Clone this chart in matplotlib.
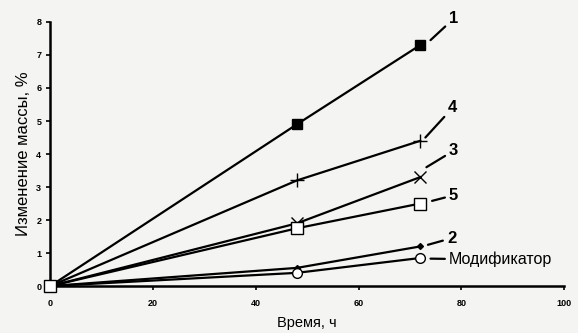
import matplotlib.pyplot as plt

plt.rcParams['font.family'] = ['Liberation Sans', 'DejaVu Sans']

# time points, h
hours = [0, 48, 72]

# mass change, %
s1 = [0, 4.9, 7.3]
s4 = [0, 3.2, 4.4]
s3 = [0, 1.9, 3.3]
s5 = [0, 1.75, 2.5]
s2 = [0, 0.55, 1.2]
smod = [0, 0.4, 0.85]

labels = ["1", "4", "3", "5", "2", "Модификатор"]
# label anchor (x, y) in data units and leader start near the curve end
label_pos = [(77.6, 8.1), (77.4, 5.4), (77.6, 4.1), (77.6, 2.75), (77.2, 1.45), (77.6, 0.8)]
leader_start = [(74, 7.45), (73, 4.5), (73.2, 3.6), (74.3, 2.58), (73.5, 1.25), (74, 0.83)]

fig = plt.figure(figsize=(5.78, 3.33), dpi=100)
fig.patch.set_facecolor("#f4f4f2")
ax = fig.add_axes([0.087, 0.141, 0.889, 0.793])
ax.set_facecolor("#f4f4f2")

lw = 1.6
skip0 = [1, 2]
ax.plot(hours, s1, "k-s", lw=lw, ms=7, mfc="black", markevery=skip0, zorder=3)
ax.plot(hours, s4, "k-+", lw=lw, ms=10, mew=1.0, markevery=skip0, zorder=3)
ax.plot(hours, s3, "k-x", lw=lw, ms=9, mew=1.0, markevery=skip0, zorder=3)
ax.plot(hours, s2, "k-D", lw=lw, ms=3, markevery=skip0, zorder=3)
ax.plot(hours, smod, "k-o", lw=lw, ms=7, mfc="white", mew=1.0, markevery=skip0, zorder=3)
ax.plot(hours, s5, "k-s", lw=lw, ms=8, mfc="white", mew=1.0, zorder=4)

for lab, (tx, ty), (sx, sy) in zip(labels, label_pos, leader_start):
    bold = lab != "Модификатор"
    ax.annotate(lab, xy=(sx, sy), xytext=(tx, ty),
                fontsize=12 if bold else 11.5, fontweight="bold" if bold else "normal",
                ha="left", va="center",
                arrowprops=dict(arrowstyle="-", lw=1.6, color="black",
                                shrinkA=1, shrinkB=0))

ax.set_xlim(0, 100)
ax.set_ylim(0, 8)
ax.set_xticks([0, 20, 40, 60, 80, 100])
ax.set_yticks(range(0, 9))
ax.tick_params(labelsize=6.5, length=3, width=1.2, direction="out")
ax.tick_params(axis="x", pad=6)
for t in ax.get_xticklabels() + ax.get_yticklabels():
    t.set_fontweight("bold")

ax.spines["top"].set_visible(False)
ax.spines["right"].set_visible(False)
ax.spines["left"].set_linewidth(1.8)
ax.spines["bottom"].set_linewidth(1.8)
for line in ax.get_lines():
    line.set_clip_on(False)

ax.set_xlabel("Время, ч", fontsize=10.5, labelpad=6)
ax.set_ylabel("Изменение массы, %", fontsize=12, labelpad=4)

plt.savefig("out.png", dpi=100)
